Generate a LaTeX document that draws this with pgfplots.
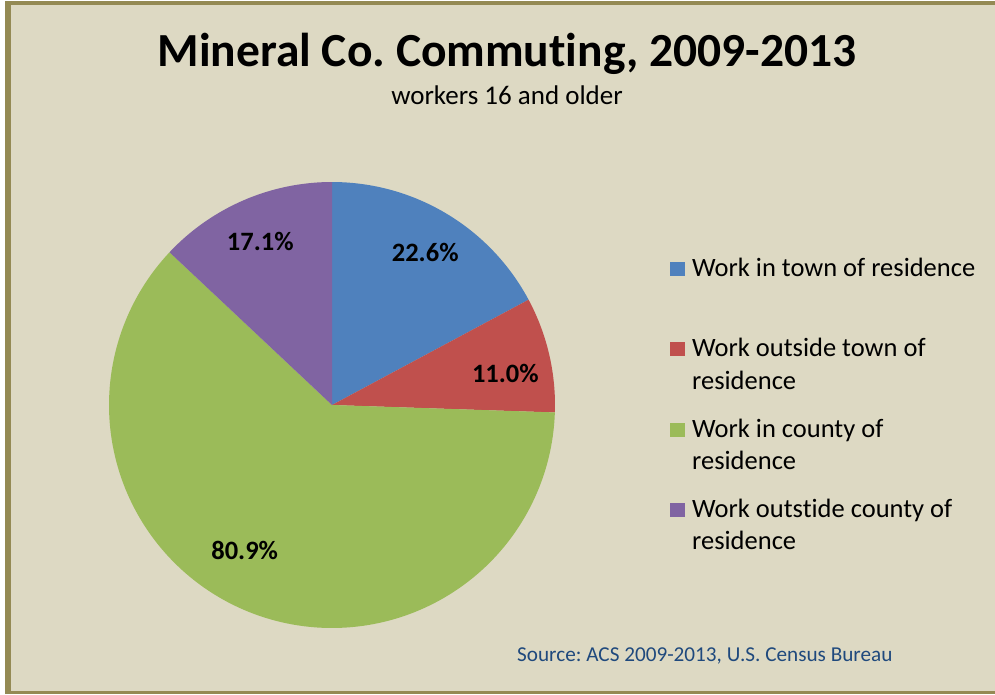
\documentclass[border=0pt]{standalone}
\usepackage{pgfplots}
\pgfplotsset{compat=1.18}
\usepackage{pgfplotstable}
\usepgfplotslibrary{polar}
\usepackage{fontspec}
\setmainfont{Carlito}[Ligatures=NoCommon]
\frenchspacing
\definecolor{bg}{HTML}{DDD9C3}
\definecolor{frame}{HTML}{948A54}
\definecolor{cA}{HTML}{4F81BD}
\definecolor{cB}{HTML}{C0504D}
\definecolor{cC}{HTML}{9BBB59}
\definecolor{cD}{HTML}{8064A2}
\definecolor{src}{HTML}{1F497D}

\pgfplotstableread{
share
22.6
11.0
80.9
17.1
}\piedata

\begin{document}%
\begin{tikzpicture}
\pgfplotstablegetelem{0}{share}\of\piedata \let\sA\pgfplotsretval
\pgfplotstablegetelem{1}{share}\of\piedata \let\sB\pgfplotsretval
\pgfplotstablegetelem{2}{share}\of\piedata \let\sC\pgfplotsretval
\pgfplotstablegetelem{3}{share}\of\piedata \let\sD\pgfplotsretval
\pgfmathsetmacro\tot{\sA+\sB+\sC+\sD}%
\pgfmathsetmacro\k{360/\tot}%
\pgfmathsetmacro\aA{90}%
\pgfmathsetmacro\aB{\aA-\k*\sA}%
\pgfmathsetmacro\aC{\aB-\k*\sB}%
\pgfmathsetmacro\aD{\aC-\k*\sC}%
\pgfmathsetmacro\aE{\aD-\k*\sD}%
\path[use as bounding box] (0pt,0pt) rectangle (995pt,694pt);
\fill[white] (0pt,0pt) rectangle (995pt,694pt);
\fill[frame] (5pt,0pt) rectangle (995pt,693pt);
\fill[bg] (11pt,3pt) rectangle (995pt,689pt);
\node[font=\fontsize{47.5}{52}\selectfont\bfseries, anchor=base, inner sep=0pt] at (507pt,627pt) {Mineral Co. Commuting, 2009-2013};
\node[font=\fontsize{27}{30}\selectfont, anchor=base, inner sep=0pt] at (507pt,589pt) {workers 16 and older};
\begin{polaraxis}[
  at={(332pt,289pt)}, anchor=center,
  scale only axis, width=446pt, height=446pt,
  xmin=0, xmax=360, ymin=0, ymax=1,
  hide axis, clip=false,
]
\addplot[fill=cA, draw=none, domain=\aB:\aA, samples=60] {1} -- (axis cs:0,0) -- cycle;
\addplot[fill=cB, draw=none, domain=\aC:\aB, samples=40] {1} -- (axis cs:0,0) -- cycle;
\addplot[fill=cC, draw=none, domain=\aD:\aC, samples=150] {1} -- (axis cs:0,0) -- cycle;
\addplot[fill=cD, draw=none, domain=\aE:\aD, samples=50] {1} -- (axis cs:0,0) -- cycle;
\node[font=\fontsize{26.5}{30}\selectfont\bfseries] at (axis cs:58.5,0.80) {\sA\%};
\node[font=\fontsize{26.5}{30}\selectfont\bfseries] at (axis cs:10.2,0.79) {\sB\%};
\node[font=\fontsize{26.5}{30}\selectfont\bfseries] at (axis cs:239,0.76) {\sC\%};
\node[font=\fontsize{26.5}{30}\selectfont\bfseries] at (axis cs:113.7,0.80) {\sD\%};
\end{polaraxis}
% legend
\begin{scope}[every node/.style={font=\fontsize{26.5}{33}\selectfont, anchor=base west, inner sep=0pt}]
\fill[cA] (670pt,418pt) rectangle (685pt,432pt);
\node at (692pt,417pt) {Work in town of residence};
\fill[cB] (670pt,338pt) rectangle (685pt,352pt);
\node at (692pt,337pt) {Work outside town of};
\node at (692pt,304.5pt) {residence};
\fill[cC] (670pt,257pt) rectangle (685pt,271pt);
\node at (692pt,256.5pt) {Work in county of};
\node at (692pt,224.5pt) {residence};
\fill[cD] (670pt,177pt) rectangle (685pt,191pt);
\node at (692pt,176.5pt) {Work outstide county of};
\node at (692pt,144.5pt) {residence};
\end{scope}
\node[font=\fontsize{21.2}{24}\selectfont, text=src, anchor=base west, inner sep=0pt] at (517pt,33pt) {Source: ACS 2009-2013, U.S. Census Bureau};
\end{tikzpicture}%
\end{document}
